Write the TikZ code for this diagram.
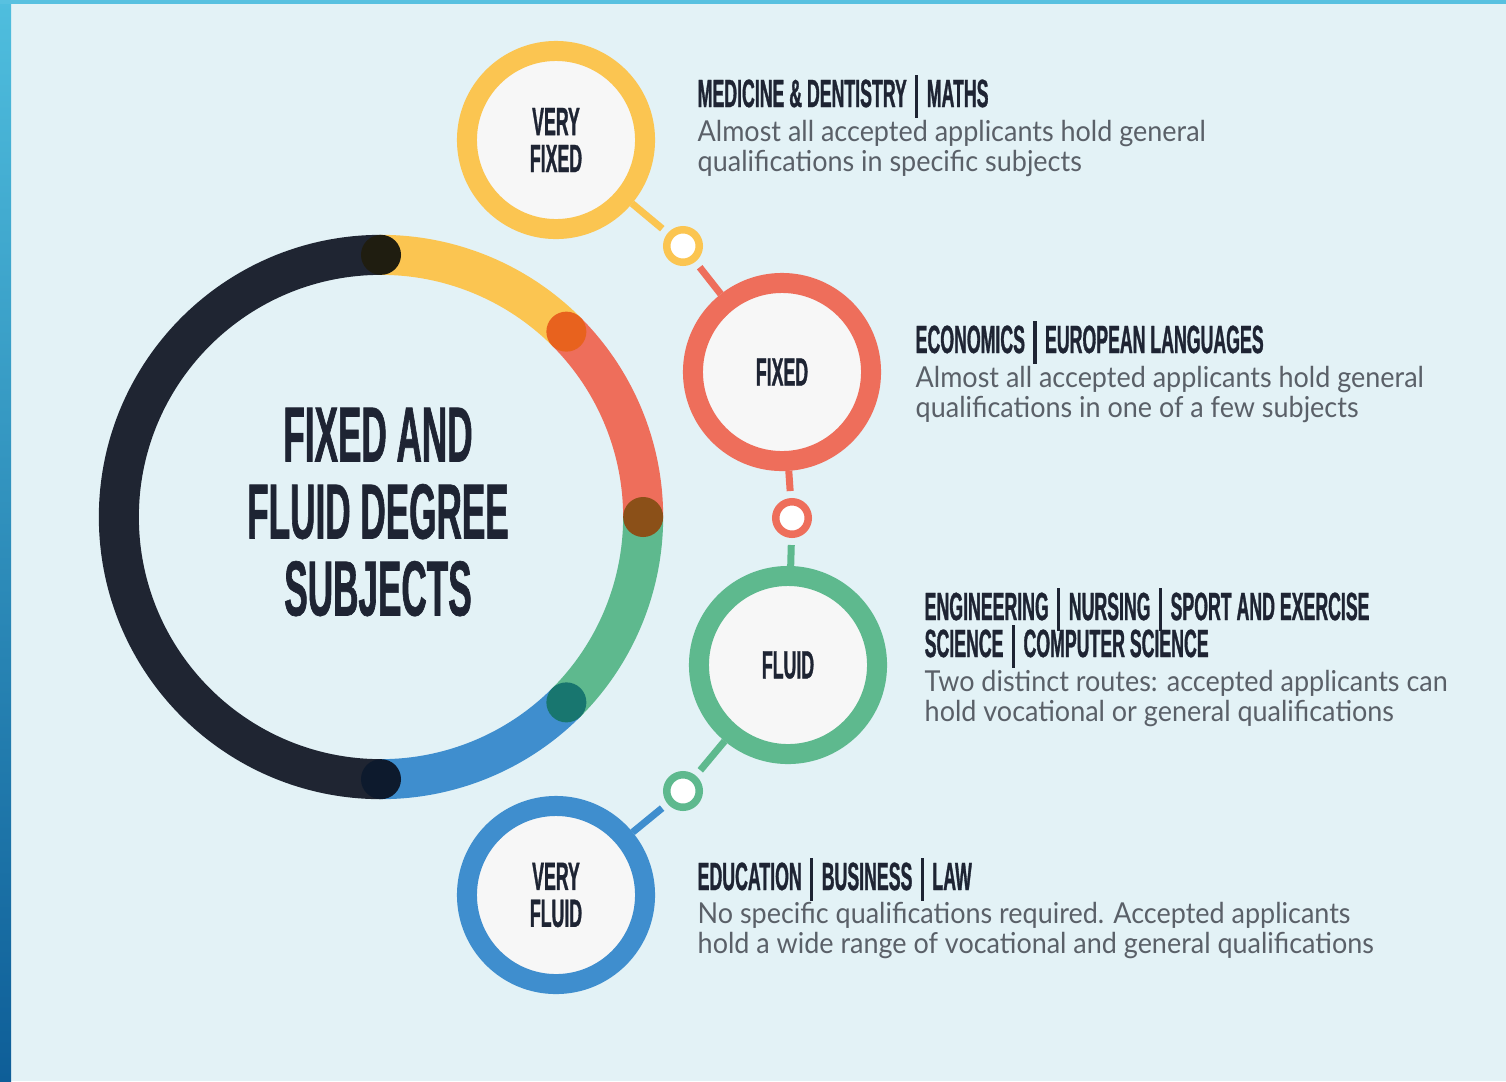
\documentclass[tikz,border=0pt]{standalone}
\usepackage{fontspec}
\setmainfont{Lato}
\newfontfamily\condfont{Liberation Sans Bold}[FakeStretch=0.45, FakeBold=0.8]
\newfontfamily\bodyfont{Lato}[FakeStretch=0.935]
\usepackage{tikz}
\usetikzlibrary{positioning}
\definecolor{bgcol}{HTML}{E3F2F6}
\definecolor{stripa}{HTML}{4FBEDE}
\definecolor{stripb}{HTML}{0E5E98}
\definecolor{navy}{HTML}{1F2532}
\definecolor{ylw}{HTML}{FBC551}
\definecolor{crl}{HTML}{EE6E5B}
\definecolor{grn}{HTML}{5EB98E}
\definecolor{blu}{HTML}{3F8ECE}
\definecolor{inwhite}{HTML}{F7F7F7}
\definecolor{ink}{HTML}{1E2433}
\definecolor{gry}{HTML}{5A6068}
\newcommand{\vsep}{\hspace{2.4pt}\smash{\rule[-3pt]{0.9pt}{12pt}}\hspace{2.4pt}}
\tikzset{
    %Define style for the level rings
    ringno/.style={
           circle,
           draw=#1, line width=0.2cm,
           fill=inwhite,
           minimum size=1.78cm,
           inner sep=0pt,
           align=center,
           text=ink,
           font=\condfont\fontsize{11.2}{10.5}\selectfont},
    % Define style for the small joints
    knot/.style={
           circle,
           draw=#1, line width=0.075cm,
           fill=white,
           minimum size=0.325cm,
           inner sep=0pt},
    % Define link style
    link/.style={
           draw=#1,
           line width=0.07cm},
    % big ring pieces
    seg/.style={
           draw=#1,
           line width=0.4cm}
}

\begin{document}
\begin{tikzpicture}[x=0.01cm, y=-0.01cm,
head/.style={anchor=base west, inner sep=0pt, text=ink, align=left,
             font=\condfont\fontsize{11.2}{10.5}\selectfont},
body/.style={anchor=north west, inner sep=0pt, text=gry, align=left,
             font=\bodyfont\fontsize{8.2}{8.5}\selectfont}
]
\useasboundingbox (0,0) rectangle (1506,1081);
\fill[bgcol] (0,0) rectangle (1506,1081);
\shade[top color=stripa, bottom color=stripb] (0,0) rectangle (11,1081);
\fill[stripa!95!white] (0,0) rectangle (1506,4);

%Big ring
\coordinate (rc) at (381,517);
\draw[seg=navy] ([shift={(90:2.62cm)}]rc) arc[start angle=90, end angle=270, radius=2.62cm];
\draw[seg=ylw] ([shift={(90:2.62cm)}]rc) arc[start angle=90, end angle=45, radius=2.62cm];
\draw[seg=crl] ([shift={(45:2.62cm)}]rc) arc[start angle=45, end angle=0, radius=2.62cm];
\draw[seg=grn] ([shift={(0:2.62cm)}]rc) arc[start angle=0, end angle=-45, radius=2.62cm];
\draw[seg=blu] ([shift={(-45:2.62cm)}]rc) arc[start angle=-45, end angle=-90, radius=2.62cm];
\fill[fill={rgb,255:red,31;green,29;blue,16}] ([shift={(90:2.62cm)}]rc) circle[radius=0.2cm];
\fill[fill={rgb,255:red,232;green,98;blue,30}] ([shift={(45:2.62cm)}]rc) circle[radius=0.2cm];
\fill[fill={rgb,255:red,139;green,80;blue,24}] ([shift={(0:2.62cm)}]rc) circle[radius=0.2cm];
\fill[fill={rgb,255:red,24;green,118;blue,111}] ([shift={(-45:2.62cm)}]rc) circle[radius=0.2cm];
\fill[fill={rgb,255:red,13;green,26;blue,45}] ([shift={(-90:2.62cm)}]rc) circle[radius=0.2cm];
\node[text=ink, align=center, font=\condfont\fontsize{22.2}{21.9}\selectfont] (title) at (378,512)
  {FIXED AND\\FLUID DEGREE\\SUBJECTS};

%Nodes
\node[ringno=ylw] (vfixed) at (556,140) {VERY\\FIXED};
\node[ringno=crl] (fixed) at (782,372) {FIXED};
\node[ringno=grn] (fluid) at (788,665) {FLUID};
\node[ringno=blu] (vfluid) at (556,895) {VERY\\FLUID};
\node[knot=ylw] (knot1) at (683,246) {};
\node[knot=crl] (knot2) at (792,518) {};
\node[knot=grn] (knot3) at (683,791) {};

%Links
\draw[link=ylw, shorten >=0.07cm] (vfixed) -- (knot1);
\draw[link=crl, shorten <=0.07cm] (knot1) -- (fixed);
\draw[link=crl, shorten >=0.07cm] (fixed) -- (knot2);
\draw[link=grn, shorten <=0.07cm] (knot2) -- (fluid);
\draw[link=grn, shorten >=0.07cm] (fluid) -- (knot3);
\draw[link=blu, shorten <=0.07cm] (knot3) -- (vfluid);

%Texts
\node[head] (head1) at (697,107) {MEDICINE \& DENTISTRY\vsep MATHS};
\node[body] (txt1) at (697,120) {Almost all accepted applicants hold general\\qualifications in specific subjects};
\node[head] (head2) at (915,353) {ECONOMICS\vsep EUROPEAN LANGUAGES};
\node[body] (txt2) at (915,366) {Almost all accepted applicants hold general\\qualifications in one of a few subjects};
\node[head] (head3) at (924,657) {ENGINEERING\vsep NURSING\vsep SPORT AND EXERCISE\\SCIENCE\vsep COMPUTER SCIENCE};
\node[body] (txt3) at (924,670) {Two distinct routes: accepted applicants can\\hold vocational or general qualifications};
\node[head] (head4) at (697,890) {EDUCATION\vsep BUSINESS\vsep LAW};
\node[body] (txt4) at (697,902) {No specific qualifications required. Accepted applicants\\hold a wide range of vocational and general qualifications};
\end{tikzpicture}
\end{document}
